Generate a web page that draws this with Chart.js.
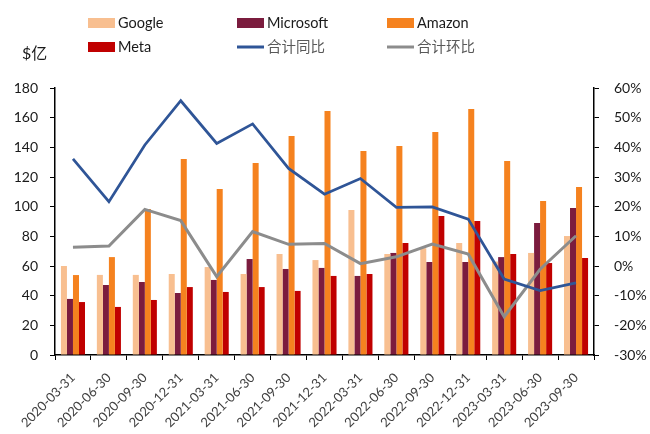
<!DOCTYPE html>
<html>
<head>
<meta charset="utf-8">
<script src="https://cdn.jsdelivr.net/npm/chart.js@4/dist/chart.umd.min.js"></script>
<style>
html,body{margin:0;padding:0;background:#fff;}
#wrap{width:650px;height:434px;}
</style>
</head>
<body>
<div id="wrap"><canvas id="c" width="650" height="434"></canvas></div>
<script>
const categories = ['2020-03-31','2020-06-30','2020-09-30','2020-12-31','2021-03-31','2021-06-30','2021-09-30','2021-12-31','2022-03-31','2022-06-30','2022-09-30','2022-12-31','2023-03-31','2023-06-30','2023-09-30'];
const google    = [60, 54, 54, 54.6, 59.3, 54.6, 68.1, 64, 97.8, 68.1, 72, 75.5, 63, 68.8, 80.2];
const microsoft = [37.8, 47.2, 49.2, 41.8, 50.6, 64.7, 58, 58.7, 53.3, 68.8, 62.7, 62.7, 66, 89, 99.1];
const amazon    = [53.9, 66, 98.4, 132.1, 111.9, 129.4, 147.7, 164.5, 137.5, 140.9, 150.3, 165.8, 130.8, 103.8, 113.3];
const meta      = [35.7, 32.4, 37.1, 45.8, 42.5, 45.8, 43.2, 53.3, 54.6, 75.5, 93.7, 90.3, 68.1, 62, 65.4];
const yoy       = [36.1, 21.7, 40.8, 55.7, 41.3, 47.9, 32.9, 24.2, 29.5, 19.8, 19.9, 15.8, -4.4, -8.3, -5.7];
const qoq       = [6.3, 6.7, 19.1, 15.3, -3.6, 11.6, 7.3, 7.6, 0.8, 3.1, 7.4, 4.0, -17.1, -1.1, 10.2];
const seriesNames = ['Google', 'Microsoft', 'Amazon', 'Meta', '合计同比', '合计环比'];
const unitLabel = '$亿';

const FONT = 'Lato, "Noto Sans CJK SC", sans-serif';

const legendPlugin = {
  id: 'customLegend',
  afterDraw(chart) {
    const ctx = chart.ctx;
    const ds = chart.data.datasets;
    const cols = [88, 237, 387];
    const rows = [23, 47];
    ctx.save();
    ds.forEach((d, i) => {
      const x = cols[i % 3];
      const y = rows[Math.floor(i / 3)];
      if (d.type === 'line') {
        ctx.strokeStyle = d.borderColor;
        ctx.lineWidth = 3;
        ctx.beginPath();
        ctx.moveTo(x, y);
        ctx.lineTo(x + 27, y);
        ctx.stroke();
        ctx.fillStyle = '#595959';
      } else {
        ctx.fillStyle = d.backgroundColor;
        ctx.fillRect(x, y - 5, 27, 10);
        ctx.fillStyle = '#1a1a1a';
      }
      ctx.font = '14.5px ' + FONT;
      ctx.textBaseline = 'middle';
      ctx.textAlign = 'left';
      ctx.fillText(d.label, x + 30, y);
    });
    ctx.fillStyle = '#1a1a1a';
    ctx.font = '16px ' + FONT;
    ctx.fillText(unitLabel, 22, 54);
    ctx.restore();
  }
};

new Chart(document.getElementById('c'), {
  data: {
    labels: categories,
    datasets: [
      { type: 'bar', label: seriesNames[0], data: google, backgroundColor: '#F8BF90', yAxisID: 'y', order: 2 },
      { type: 'bar', label: seriesNames[1], data: microsoft, backgroundColor: '#7B1C3E', yAxisID: 'y', order: 2 },
      { type: 'bar', label: seriesNames[2], data: amazon, backgroundColor: '#F5821F', yAxisID: 'y', order: 2 },
      { type: 'bar', label: seriesNames[3], data: meta, backgroundColor: '#C00000', yAxisID: 'y', order: 2 },
      { type: 'line', label: seriesNames[4], data: yoy, borderColor: '#2F5597', backgroundColor: '#2F5597', borderWidth: 2.75, pointRadius: 0, tension: 0, yAxisID: 'y1', order: 0 },
      { type: 'line', label: seriesNames[5], data: qoq, borderColor: '#8C8C8C', backgroundColor: '#8C8C8C', borderWidth: 3, pointRadius: 0, tension: 0, yAxisID: 'y1', order: 1 }
    ]
  },
  options: {
    responsive: false,
    animation: false,
    datasets: { bar: { barPercentage: 1, categoryPercentage: 0.67 } },
    layout: { padding: { top: 88, left: 0, right: 0, bottom: 0 } },
    plugins: { legend: { display: false }, tooltip: { enabled: false } },
    scales: {
      x: {
        offset: true,
        grid: { offset: true, drawOnChartArea: false, drawTicks: true, tickLength: 5, color: '#000' },
        border: { color: '#000', width: 1.5 },
        ticks: { maxRotation: 45, minRotation: 45, autoSkip: false, padding: 10, color: '#404040', font: { family: FONT, size: 13 } },
        afterFit(s) { s.height = 79; }
      },
      y: {
        position: 'left', min: 0, max: 180,
        grid: { drawOnChartArea: false, drawTicks: true, tickLength: 5, color: '#000' },
        border: { color: '#000', width: 1.5 },
        ticks: { stepSize: 20, padding: 12, color: '#1a1a1a', font: { family: FONT, size: 14 } },
        afterFit(s) { s.width = 55; }
      },
      y1: {
        position: 'right', min: -30, max: 60,
        grid: { drawOnChartArea: false, drawTicks: true, tickLength: 5, color: '#000' },
        border: { color: '#000', width: 1.5 },
        ticks: { stepSize: 10, padding: 15, color: '#1a1a1a', font: { family: FONT, size: 14 }, callback: v => v + '%' },
        afterFit(s) { s.width = 56; }
      }
    }
  },
  plugins: [legendPlugin]
});
</script>
</body>
</html>
